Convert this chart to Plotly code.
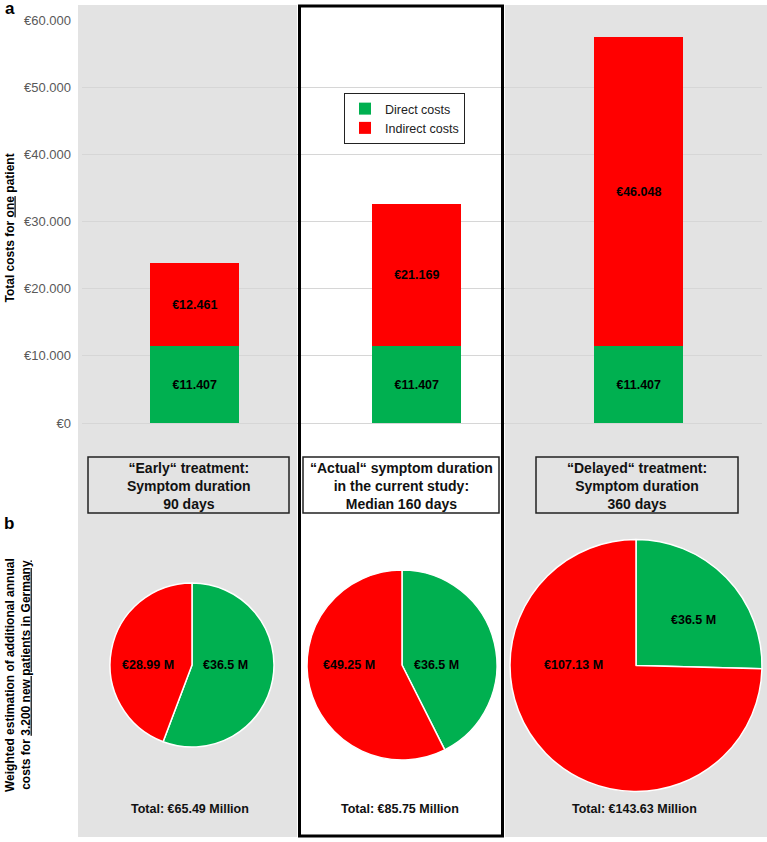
import plotly.graph_objects as go

W, H = 767, 842

# ---- data ----
categories = ["Early", "Actual", "Delayed"]
direct_costs = [11407, 11407, 11407]
indirect_costs = [12461, 21169, 46048]
pie_direct_m = [36.5, 36.5, 36.5]
pie_indirect_m = [28.99, 49.25, 107.13]
pie_totals_m = [65.49, 85.75, 143.63]
scenario_labels = [
    "\u201cEarly\u201c treatment:<br>Symptom duration<br>90 days",
    "\u201cActual\u201c symptom duration<br>in the current study:<br>Median 160 days",
    "\u201cDelayed\u201c treatment:<br>Symptom duration<br>360 days",
]
y_ticks = [0, 10000, 20000, 30000, 40000, 50000, 60000]
y_ticktext = ["€" + f"{v:,}".replace(",", ".") for v in y_ticks]

GREEN = "#00b050"
RED = "#ff0000"
GREY = "#e3e3e3"
FONT = "Liberation Sans, Arial, sans-serif"


def X(px):
    return px / W


def Y(py):
    return 1 - py / H


fig = go.Figure()

xpos = list(range(len(categories)))
fig.add_trace(go.Bar(
    x=xpos, y=direct_costs, name="Direct costs", marker=dict(color=GREEN, line=dict(width=0)),
    width=0.40, texttemplate="<b>€%{y:,d}</b>", textposition="inside", insidetextanchor="middle",
    textfont=dict(color="black", size=12.5, family=FONT), constraintext="none", hoverinfo="skip",
))
fig.add_trace(go.Bar(
    x=xpos, y=indirect_costs, name="Indirect costs", marker=dict(color=RED, line=dict(width=0)),
    width=0.40, texttemplate="<b>€%{y:,d}</b>", textposition="inside", insidetextanchor="middle",
    textfont=dict(color="black", size=12.5, family=FONT), constraintext="none", hoverinfo="skip",
))

# pies (pixel geometry: centers and radii)
pie_geo = [(192, 665, 82), (402, 665, 95), (636, 665.5, 126)]
for i, (cx, cy, r) in enumerate(pie_geo):
    fig.add_trace(go.Pie(
        values=[pie_direct_m[i], pie_indirect_m[i]], labels=["Direct costs", "Indirect costs"],
        marker=dict(colors=[GREEN, RED], line=dict(color="white", width=1.5)),
        sort=False, direction="clockwise", rotation=0, textinfo="none", showlegend=False,
        domain=dict(x=[X(cx - r), X(cx + r)], y=[Y(cy + r), Y(cy - r)]), hoverinfo="skip",
    ))

shapes = [
    dict(type="rect", xref="paper", yref="paper", x0=X(78), x1=X(297), y0=Y(837), y1=Y(5),
         fillcolor=GREY, line=dict(width=0), layer="below"),
    dict(type="rect", xref="paper", yref="paper", x0=X(505), x1=X(767), y0=Y(837), y1=Y(5),
         fillcolor=GREY, line=dict(width=0), layer="below"),
    dict(type="rect", xref="paper", yref="paper", x0=X(299.5), x1=X(502.5), y0=Y(836), y1=Y(6),
         fillcolor="rgba(0,0,0,0)", line=dict(color="black", width=3), layer="above"),
]
box_px = [(88, 289), (303, 499), (536, 738)]
for (x0, x1) in box_px:
    shapes.append(dict(type="rect", xref="paper", yref="paper", x0=X(x0), x1=X(x1), y0=Y(513), y1=Y(457),
                       fillcolor="rgba(0,0,0,0)", line=dict(color="#222222", width=1.5), layer="above"))


def ann(px, py, text, size, color="black", angle=0):
    return dict(x=X(px), y=Y(py), xref="paper", yref="paper", text=text, showarrow=False,
                xanchor="center", yanchor="middle", textangle=angle,
                font=dict(size=size, color=color, family=FONT))


annotations = []
for (x0, x1), lab in zip(box_px, scenario_labels):
    annotations.append(ann((x0 + x1) / 2, 485.5, f"<b>{lab}</b>", 14, "#111111"))

# pie labels
pie_label_px = [
    ((225, 665), (148, 665)),
    ((436, 665), (349, 665)),
    ((693, 620), (573, 665)),
]
for i, ((gx, gy), (rx, ry)) in enumerate(pie_label_px):
    annotations.append(ann(gx, gy, f"<b>€{pie_direct_m[i]:g} M</b>", 12.5))
    annotations.append(ann(rx, ry, f"<b>€{pie_indirect_m[i]:.2f} M</b>", 12.5))
    cx = pie_geo[i][0]
    annotations.append(ann(cx - 2, 809, f"<b>Total: €{pie_totals_m[i]:.2f} Million</b>", 12.5, "#111111"))

annotations += [
    ann(10, 8, "<b>a</b>", 17),
    ann(9, 523, "<b>b</b>", 17),
    ann(9.5, 228, "<b>Total costs for <u>one</u> patient</b>", 12, angle=-90),
    ann(18, 675, "<b>Weighted estimation of additional annual<br>costs for <u>3.200 new patients in Germany</u></b>",
        12, angle=-90),
]

fig.update_layout(
    template="none",
    width=W, height=H, margin=dict(l=0, r=0, t=0, b=0, pad=0),
    paper_bgcolor="white", plot_bgcolor="rgba(0,0,0,0)",
    barmode="stack", separators=",.",
    font=dict(family=FONT),
    showlegend=True,
    legend=dict(x=X(344), y=Y(93), xanchor="left", yanchor="top", traceorder="normal",
                bgcolor="white", bordercolor="#222222", borderwidth=1,
                font=dict(size=12.5, color="#222222", family=FONT)),
    xaxis=dict(domain=[X(82), X(762)], range=[-0.508, 2.555], showticklabels=False, showgrid=False,
               zeroline=False, showline=False, fixedrange=True, automargin=False, ticks=""),
    yaxis=dict(domain=[Y(423), Y(20)], range=[0, 60000], tickvals=y_ticks, ticktext=y_ticktext,
               showgrid=True, gridcolor="#d6d6d6", gridwidth=1, zeroline=True, zerolinecolor="#d6d6d6",
               zerolinewidth=1, showline=False, ticks="", ticklabelstandoff=10, automargin=False,
               tickfont=dict(size=13, color="#595959", family=FONT)),
    shapes=shapes, annotations=annotations,
)

fig.write_html("out.html")
